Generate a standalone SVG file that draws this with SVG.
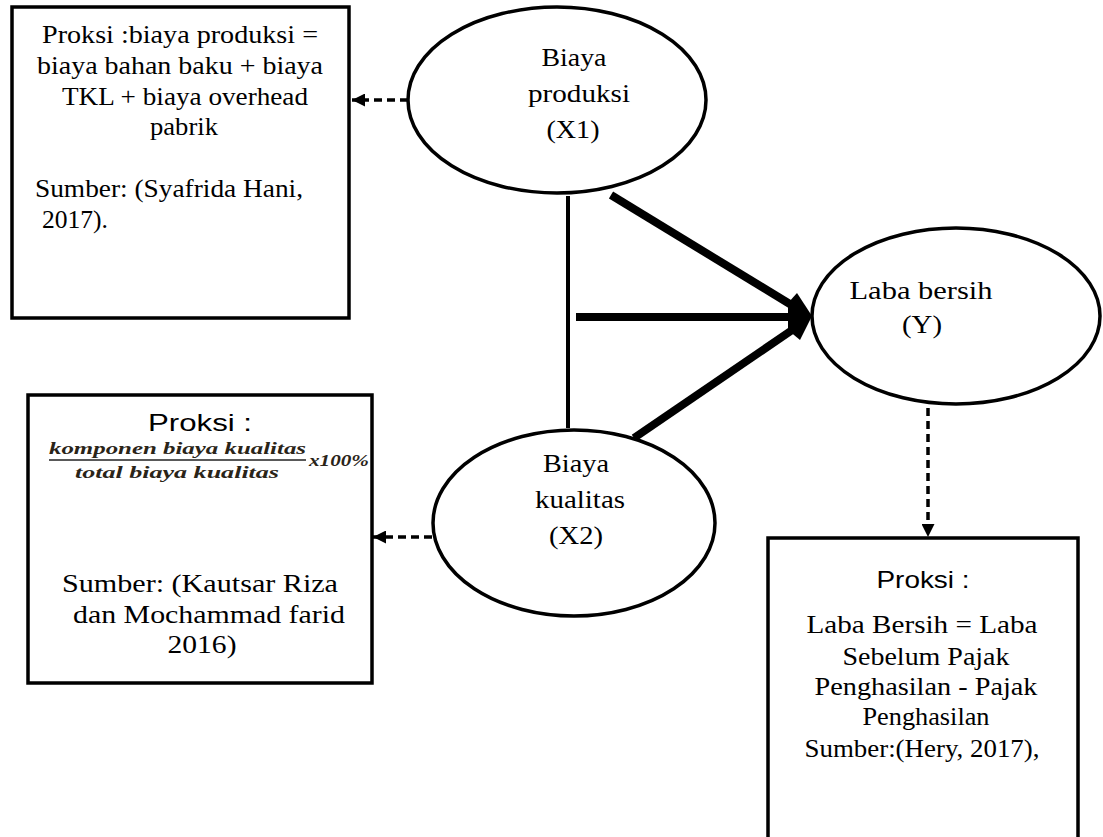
<svg xmlns="http://www.w3.org/2000/svg" width="1103" height="837" viewBox="0 0 1103 837">
<style>
.box{fill:#fff;stroke:#000;stroke-width:3.5}
.ell{fill:#fff;stroke:#000;stroke-width:3.5}
.t{font-family:"Liberation Serif","Times New Roman",Tinos,serif;font-size:25px;fill:#000}
.s{font-family:"Liberation Sans",Arial,Arimo,sans-serif;font-size:24px;fill:#000}
.f{font-family:"Liberation Serif","Times New Roman",serif;font-style:italic;font-weight:bold;font-size:16px;fill:#2a2418}
.m{text-anchor:middle}
.dash{fill:none;stroke:#000;stroke-width:3.5;stroke-dasharray:8 5}
.solid{fill:none;stroke:#000}
</style>
<defs>
<marker id="ah" viewBox="0 0 10 10" refX="10" refY="5" markerWidth="15" markerHeight="13" markerUnits="userSpaceOnUse" orient="auto">
<path d="M0,0 L10,5 L0,10 z" fill="#000"/>
</marker>
</defs>
<g id="connectors">
<line class="dash" x1="408" y1="100" x2="352" y2="100" marker-end="url(#ah)"/>
<line class="dash" x1="432" y1="537" x2="373" y2="537" marker-end="url(#ah)"/>
<line class="dash" x1="928" y1="408" x2="928" y2="537" marker-end="url(#ah)"/>
<line class="solid" x1="568" y1="196" x2="568" y2="428" stroke-width="4"/>
<line class="solid" x1="576" y1="317" x2="796" y2="317" stroke-width="8"/>
<line class="solid" x1="611" y1="195" x2="798" y2="309" stroke-width="8"/>
<line class="solid" x1="634" y1="438" x2="798" y2="326" stroke-width="8"/>
<polygon points="797,293 812,316 800,340 788,330 788,303" fill="#000"/>
</g>
<g id="box-x1">
<rect class="box" x="12" y="7" width="337" height="311"/>
<text class="t m" x="180" y="43" textLength="276" lengthAdjust="spacingAndGlyphs">Proksi :biaya produksi =</text>
<text class="t m" x="180" y="74" textLength="286" lengthAdjust="spacingAndGlyphs">biaya bahan baku + biaya</text>
<text class="t m" x="185" y="105" textLength="246" lengthAdjust="spacingAndGlyphs">TKL + biaya overhead</text>
<text class="t m" x="184" y="135" textLength="68" lengthAdjust="spacingAndGlyphs">pabrik</text>
<text class="t" x="35" y="197" textLength="268" lengthAdjust="spacingAndGlyphs">Sumber: (Syafrida Hani,</text>
<text class="t" x="42" y="228" textLength="66" lengthAdjust="spacingAndGlyphs">2017).</text>
</g>
<g id="x1">
<ellipse class="ell" cx="557" cy="100" rx="149" ry="93"/>
<text class="t m" x="574" y="66" textLength="65" lengthAdjust="spacingAndGlyphs">Biaya</text>
<text class="t m" x="579" y="102" textLength="102" lengthAdjust="spacingAndGlyphs">produksi</text>
<text class="t m" x="573" y="138" textLength="53" lengthAdjust="spacingAndGlyphs">(X1)</text>
</g>
<g id="y">
<ellipse class="ell" cx="956" cy="316" rx="144" ry="88"/>
<text class="t m" x="921" y="299" textLength="143" lengthAdjust="spacingAndGlyphs">Laba bersih</text>
<text class="t m" x="922" y="333" textLength="40" lengthAdjust="spacingAndGlyphs">(Y)</text>
</g>
<g id="x2">
<ellipse class="ell" cx="574" cy="523" rx="141" ry="93"/>
<text class="t m" x="576" y="472" textLength="66" lengthAdjust="spacingAndGlyphs">Biaya</text>
<text class="t m" x="580" y="508" textLength="90" lengthAdjust="spacingAndGlyphs">kualitas</text>
<text class="t m" x="576" y="544" textLength="54" lengthAdjust="spacingAndGlyphs">(X2)</text>
</g>
<g id="box-x2">
<rect class="box" x="28" y="395" width="344" height="288"/>
<text class="s m" x="200" y="431" textLength="104" lengthAdjust="spacingAndGlyphs">Proksi :</text>
<text class="f m" x="177.5" y="454" textLength="257" lengthAdjust="spacingAndGlyphs">komponen biaya kualitas</text>
<line x1="49" y1="460" x2="306" y2="460" stroke="#222" stroke-width="1.5"/>
<text class="f m" x="177" y="478" textLength="204" lengthAdjust="spacingAndGlyphs">total biaya kualitas</text>
<text class="f" x="309" y="466" textLength="60" lengthAdjust="spacingAndGlyphs">x100%</text>
<text class="t m" x="200" y="592" textLength="276" lengthAdjust="spacingAndGlyphs">Sumber: (Kautsar Riza</text>
<text class="t m" x="209" y="623" textLength="272" lengthAdjust="spacingAndGlyphs">dan Mochammad farid</text>
<text class="t m" x="202" y="653" textLength="69" lengthAdjust="spacingAndGlyphs">2016)</text>
</g>
<g id="box-y">
<rect class="box" x="768" y="538" width="310" height="320"/>
<text class="s m" x="923" y="588" font-size="22" textLength="93" lengthAdjust="spacingAndGlyphs">Proksi :</text>
<text class="t m" x="922" y="633" textLength="231" lengthAdjust="spacingAndGlyphs">Laba Bersih = Laba</text>
<text class="t m" x="926" y="665" textLength="167" lengthAdjust="spacingAndGlyphs">Sebelum Pajak</text>
<text class="t m" x="926" y="695" textLength="223" lengthAdjust="spacingAndGlyphs">Penghasilan - Pajak</text>
<text class="t m" x="926" y="725" textLength="127" lengthAdjust="spacingAndGlyphs">Penghasilan</text>
<text class="t m" x="922" y="757" textLength="235" lengthAdjust="spacingAndGlyphs">Sumber:(Hery, 2017),</text>
</g>
</svg>
